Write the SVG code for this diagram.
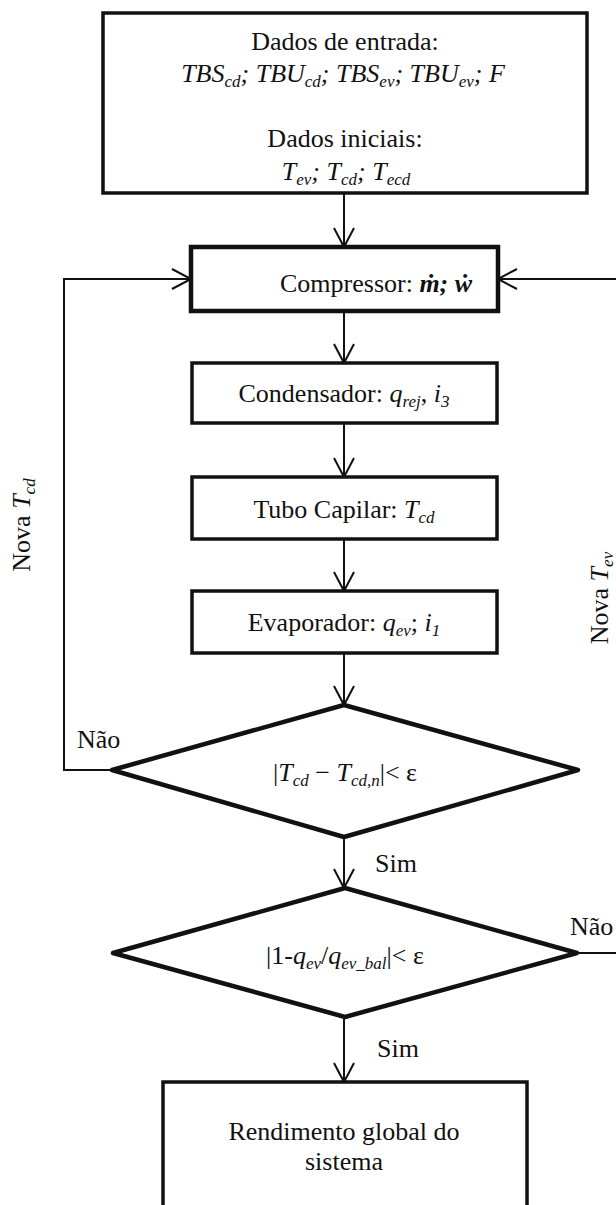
<svg xmlns="http://www.w3.org/2000/svg" width="616" height="1205" viewBox="0 0 616 1205" font-family="'Liberation Serif', 'Times New Roman', Tinos, 'Noto Serif', 'DejaVu Serif', FreeSerif, serif">
<style>
text{font-family:'Liberation Serif','Times New Roman',Tinos,'Noto Serif','DejaVu Serif',FreeSerif,serif;font-size:26px;fill:#111}
.it{font-style:italic}
.sub{font-size:17px;font-style:italic}
.box{fill:#fff;stroke:#111;stroke-width:3.5}
.thick{stroke-width:4.5}
.dia{stroke-width:4.5;stroke-linejoin:round}
.con{fill:none;stroke:#111;stroke-width:2}
</style>
<defs>
<marker id="arr" markerUnits="userSpaceOnUse" markerWidth="24" markerHeight="24" viewBox="-20 -12 24 24" refX="0" refY="0" orient="auto">
<path d="M-19,-10 L0,0 L-19,10" fill="none" stroke="#111" stroke-width="2"/>
</marker>
</defs>
<g id="connectors">
<line class="con" x1="344" y1="193" x2="344" y2="247" marker-end="url(#arr)"/>
<line class="con" x1="344" y1="311" x2="344" y2="363" marker-end="url(#arr)"/>
<line class="con" x1="344" y1="423" x2="344" y2="477" marker-end="url(#arr)"/>
<line class="con" x1="344" y1="539" x2="344" y2="591" marker-end="url(#arr)"/>
<line class="con" x1="344" y1="653" x2="344" y2="705" marker-end="url(#arr)"/>
<line class="con" x1="344" y1="837" x2="344" y2="888" marker-end="url(#arr)"/>
<line class="con" x1="344" y1="1017" x2="344" y2="1082" marker-end="url(#arr)"/>
<path class="con" d="M112,770 H64 V279 H191" marker-end="url(#arr)"/>
<path class="con" d="M577,953 H618 V279 H498" marker-end="url(#arr)"/>
<text x="77" y="748">Não</text>
<text x="375" y="872">Sim</text>
<text x="570" y="935">Não</text>
<text x="377" y="1057">Sim</text>
<text transform="translate(30,525) rotate(-90)" text-anchor="middle">Nova <tspan class="it">T</tspan><tspan class="sub" dy="5">cd</tspan></text>
<text transform="translate(608,598) rotate(-90)" text-anchor="middle">Nova <tspan class="it">T</tspan><tspan class="sub" dy="5">ev</tspan></text>
</g>
<g id="entrada">
<rect class="box" x="103" y="13" width="484" height="180"/>
<text x="345" y="50" text-anchor="middle">Dados de entrada:</text>
<text x="343" y="82" text-anchor="middle" class="it">TBS<tspan class="sub" dy="5">cd</tspan><tspan dy="-5">; TBU</tspan><tspan class="sub" dy="5">cd</tspan><tspan dy="-5">; TBS</tspan><tspan class="sub" dy="5">ev</tspan><tspan dy="-5">; TBU</tspan><tspan class="sub" dy="5">ev</tspan><tspan dy="-5">; F</tspan></text>
<text x="345" y="147" text-anchor="middle">Dados iniciais:</text>
<text x="346" y="180" text-anchor="middle" class="it">T<tspan class="sub" dy="5">ev</tspan><tspan dy="-5">; T</tspan><tspan class="sub" dy="5">cd</tspan><tspan dy="-5">; T</tspan><tspan class="sub" dy="5">ecd</tspan></text>
</g>
<g id="compressor">
<rect class="box thick" x="191" y="247" width="307" height="64"/>
<text x="280" y="292">Compressor: <tspan font-weight="bold" font-style="italic">ṁ; ẇ</tspan></text>
</g>
<g id="condensador">
<rect class="box" x="192" y="363" width="305" height="60"/>
<text x="344" y="402" text-anchor="middle">Condensador: <tspan class="it">q</tspan><tspan class="sub" dy="5">rej</tspan><tspan dy="-5">, </tspan><tspan class="it">i</tspan><tspan class="sub" dy="5">3</tspan></text>
</g>
<g id="tubo">
<rect class="box" x="192" y="477" width="305" height="62"/>
<text x="344" y="518" text-anchor="middle">Tubo Capilar: <tspan class="it">T</tspan><tspan class="sub" dy="5">cd</tspan></text>
</g>
<g id="evaporador">
<rect class="box" x="192" y="591" width="305" height="62"/>
<text x="344" y="631" text-anchor="middle">Evaporador: <tspan class="it">q</tspan><tspan class="sub" dy="5">ev</tspan><tspan dy="-5">; </tspan><tspan class="it">i</tspan><tspan class="sub" dy="5">1</tspan></text>
</g>
<g id="decisao1">
<polygon class="box dia" points="344,705 578,770 344,837 112,770"/>
<text x="345" y="781" text-anchor="middle">|<tspan class="it">T</tspan><tspan class="sub" dy="5">cd</tspan><tspan dy="-5"> − </tspan><tspan class="it">T</tspan><tspan class="sub" dy="5">cd,n</tspan><tspan dy="-5">|&lt; ε</tspan></text>
</g>
<g id="decisao2">
<polygon class="box dia" points="345,888 577,953 345,1017 113,953"/>
<text x="345" y="964" text-anchor="middle">|1-<tspan class="it">q</tspan><tspan class="sub" dy="5">ev</tspan><tspan dy="-5">/</tspan><tspan class="it">q</tspan><tspan class="sub" dy="5">ev_bal</tspan><tspan dy="-5">|&lt; ε</tspan></text>
</g>
<g id="rendimento">
<rect class="box" x="163" y="1082" width="364" height="140"/>
<text x="344" y="1140" text-anchor="middle">Rendimento global do</text>
<text x="344" y="1170" text-anchor="middle">sistema</text>
</g>
</svg>
